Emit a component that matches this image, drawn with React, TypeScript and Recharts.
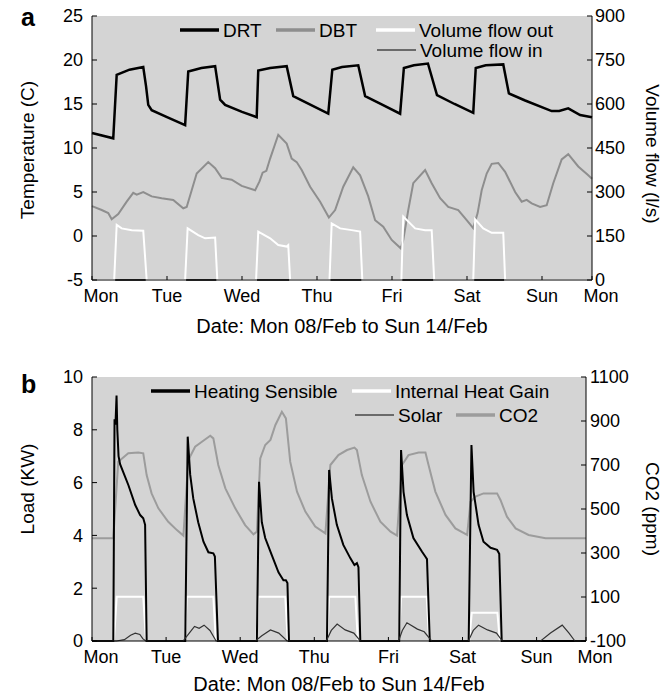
import React from 'react';
import { LineChart, Line, XAxis, YAxis, CartesianGrid, Legend } from 'recharts';

type Pt = { h: number; v: number };
const pts = (rows: number[][]): Pt[] => rows.map(([h, v]) => ({ h, v }));

// hours since Monday 00:00, plotted range ends at 160 h
const dayTicks = [0, 24, 48, 72, 96, 120, 144, 160];
const dayLabels = ['Mon', 'Tue', 'Wed', 'Thu', 'Fri', 'Sat', 'Sun', 'Mon'];
const tempTicks = [-5, 0, 5, 10, 15, 20, 25];
const flowTicks = [0, 150, 300, 450, 600, 750, 900];
const loadTicks = [0, 2, 4, 6, 8, 10];
const co2Ticks = [-100, 100, 300, 500, 700, 900, 1100];
const xTitle = 'Date: Mon 08/Feb to Sun 14/Feb';

// panel a
const drt = pts([
  [0, 11.7], [6.8, 11.1], [7.9, 18.3], [12, 18.9], [16.4, 19.2], [17.3, 17.0], [18, 14.9], [19.1, 14.3], [24, 13.5], [29.8, 12.6],
  [30.8, 18.7], [35, 19.1], [39.4, 19.3], [41, 15.5], [42.6, 14.9], [48, 14.1], [52.7, 13.5],
  [53.2, 18.8], [57, 19.1], [62.3, 19.3], [64.4, 15.9], [70, 14.9], [75.6, 13.9],
  [76.9, 18.9], [80, 19.2], [85.2, 19.4], [87.4, 15.9], [93, 14.9], [98.6, 13.9],
  [99.8, 19.1], [103, 19.4], [107.5, 19.6], [110.4, 16.0], [116, 15.0], [122, 14.0],
  [122.8, 19.1], [126, 19.4], [131.6, 19.5], [133.4, 16.2], [138.6, 15.4], [147.1, 14.2], [149.5, 14.2], [152.4, 14.5],
  [156.2, 13.75], [160, 13.5],
]);

const dbt = pts([
  [0, 3.4], [3.1, 2.95], [5.2, 2.6], [6.3, 1.9], [8.4, 2.5], [11.1, 3.9], [13.2, 4.9], [14.3, 4.7], [16.4, 5.0], [19.1, 4.5],
  [22.3, 4.3], [26, 4.1], [29.2, 3.15], [30.3, 3.3], [31.9, 5.2], [33.5, 7.1], [37.2, 8.4], [39.4, 7.7], [41.5, 6.6],
  [44.7, 6.4], [47.9, 5.7], [52.2, 5.2], [53.6, 6.2], [54.6, 7.2], [55.8, 7.4], [57, 8.8], [59.6, 11.5], [62.3, 10.5],
  [63.9, 8.8], [65.5, 8.4], [67.1, 7.5], [69.8, 5.6], [73, 3.9], [75.8, 2.1], [77.8, 2.95], [80.4, 5.6], [83.6, 7.8],
  [85.8, 6.9], [88.4, 4.5], [90.6, 1.8], [93.2, 1.06], [95.9, -0.45], [98.8, -1.4], [99.6, -0.45], [101.2, 2.95],
  [102.8, 6.0], [106.6, 7.5], [108.7, 6.0], [111.4, 4.3], [114, 3.3], [117.2, 2.95], [119.9, 1.8], [122, 0.9],
  [123.4, 2.6], [124.7, 5.2], [126.3, 7.1], [127.9, 8.2], [130, 8.3], [132.2, 7.3], [135.4, 5.0], [137.5, 3.9],
  [139.1, 4.1], [140.7, 3.7], [143.4, 3.3], [145.5, 3.5], [147.6, 6.0], [150.3, 8.7], [152.4, 9.3], [155.6, 7.9],
  [158.8, 6.9], [160, 6.5],
]);

const flowOut = pts([
  [0, 0], [7.1, 0], [7.9, 188], [9.5, 176], [12.7, 170], [16.4, 168], [17.5, 0],
  [29.8, 0], [30.6, 176], [34, 153], [36.2, 142], [39.4, 145], [40.1, 0],
  [52.5, 0], [53.2, 165], [57, 142], [59.6, 119], [62.3, 114], [62.8, 119], [63.4, 0],
  [76, 0], [76.7, 193], [79.4, 176], [83.1, 170], [85.8, 165], [86.5, 0],
  [99, 0], [99.6, 216], [103.4, 176], [106.6, 170], [108.7, 170], [109.5, 0],
  [122, 0], [122.6, 207], [125.2, 176], [127.9, 161], [131.6, 161], [132.2, 0], [160, 0],
]);

const flowIn = pts([[0, 0], [160, 0]]);

// panel b
const heating = pts([
  [0, 0], [6.9, 0], [7.3, 8.4], [7.6, 8.2], [7.95, 9.3], [8.2, 8.0], [8.6, 7.0], [9.1, 6.7], [11.8, 5.9], [14, 5.15],
  [15.6, 4.77], [16.6, 4.65], [17.2, 4.4], [17.7, 0],
  [30.2, 0], [31, 7.74], [31.8, 6.3], [32.8, 5.4], [34.4, 4.5], [36.1, 3.76], [37.7, 3.36], [39.3, 3.32], [39.8, 3.2], [40.8, 0],
  [53.4, 0], [54.1, 6.03], [55, 4.5], [56.1, 3.9], [58.2, 3.26], [60.4, 2.6], [62, 2.3], [62.8, 2.3], [63.3, 2.2], [63.8, 0],
  [76.1, 0], [76.8, 6.48], [77.7, 5.4], [79.3, 4.4], [81.4, 3.64], [83.7, 3.13], [85, 2.88], [85.8, 2.95], [86.3, 2.8], [86.9, 0],
  [99.5, 0], [100.1, 7.23], [100.9, 5.65], [102, 4.77], [104.1, 3.9], [106.9, 3.38], [108, 3.19], [108.5, 3.1], [109.4, 0],
  [122, 0], [122.9, 7.42], [123.6, 5.65], [125.2, 4.4], [126.8, 3.76], [129.1, 3.53], [131.2, 3.45], [131.9, 3.3], [132.7, 0],
  [160, 0],
]);

const internalGain = pts([
  [0, 0], [7.1, 0], [8.0, 1.68], [16.6, 1.68], [17.5, 0],
  [30.1, 0], [30.7, 1.68], [39.3, 1.68], [40.1, 0],
  [53.2, 0], [53.9, 1.68], [62.6, 1.68], [63.4, 0],
  [76.1, 0], [76.8, 1.68], [85.3, 1.68], [86.1, 0],
  [99.4, 0], [100.1, 1.68], [108.4, 1.68], [109.2, 0],
  [122.2, 0], [123.0, 1.07], [131.3, 1.07], [132.1, 0], [160, 0],
]);

const solar = pts([
  [0, 0], [7.9, 0], [10.5, 0.05], [12.5, 0.22], [14, 0.3], [15.5, 0.25], [16.5, 0.08], [17.5, 0],
  [29.5, 0], [31.5, 0.3], [33.2, 0.55], [34.7, 0.48], [36.3, 0.6], [38.2, 0.4], [40.2, 0],
  [52.9, 0], [55, 0.2], [57.8, 0.42], [60.5, 0.3], [63.2, 0],
  [75.9, 0], [77.5, 0.4], [79.4, 0.64], [82, 0.42], [84.8, 0.3], [86.9, 0],
  [99.3, 0], [100.5, 0.4], [102, 0.69], [105.4, 0.45], [107.6, 0.35], [110, 0],
  [121.9, 0], [123.5, 0.4], [125.2, 0.6], [128.1, 0.42], [131, 0.3], [132.9, 0],
  [145.3, 0], [148.5, 0.3], [152.3, 0.6], [154.5, 0.3], [156.4, 0], [160, 0],
]);

const co2 = pts([
  [0, 367], [6.9, 367], [8.5, 715], [11.75, 753], [15, 757], [16.6, 753], [17.7, 654], [19.3, 571], [21.5, 503],
  [24.7, 442], [27.5, 404], [29.6, 379],
  [31.2, 723], [33.4, 783], [35.6, 806], [38.3, 833], [39.3, 821], [40.9, 700], [43.2, 594], [46.4, 503], [49.6, 427], [52.3, 385],
  [53.4, 397], [54.5, 730], [56.1, 791], [57.8, 814], [59.4, 882], [61.5, 942], [62.8, 912], [64.2, 715], [66.4, 579],
  [69.1, 488], [72.3, 420], [75.6, 389],
  [77.2, 700], [79.8, 745], [82.6, 768], [85, 779], [85.8, 768], [87.4, 654], [90.2, 533], [93.4, 442], [96.7, 397], [98.8, 379],
  [100.4, 700], [102.5, 745], [105.8, 757], [108, 757], [109, 700], [111.2, 579], [114.5, 473], [117.7, 412], [121.5, 382],
  [122.6, 533], [124.2, 556], [126.8, 571], [131.2, 571], [132.3, 541], [134.4, 465], [137.2, 412], [141.4, 382],
  [146.9, 367], [160, 367],
]);

const FONT = '"Liberation Sans", Arial, Helvetica, sans-serif';
const PLOT_BG = '#d4d4d4';
const DBT_GREY = '#8e8e8e';
const CO2_GREY = '#9c9c9c';

const DayTick = (props: any) => {
  const { x, y, payload } = props;
  const i = dayTicks.indexOf(payload.value);
  const dx = i === 0 || i === dayTicks.length - 1 ? 9 : 0;
  return (
    <text x={x + dx} y={y} dy="0.71em" textAnchor="middle" fontSize={18} fill="#000">
      {dayLabels[i]}
    </text>
  );
};

const sideTitle = (text: string, dx: number, dy: number, angle: number) => (p: any) => {
  const vb = p.viewBox || { x: 0, y: 0, width: 0, height: 0 };
  const cx = vb.x + dx;
  const cy = vb.y + vb.height / 2 + dy;
  return (
    <text x={cx} y={cy} transform={`rotate(${angle} ${cx} ${cy})`} textAnchor="middle"
      dominantBaseline="central" fontSize={19} fill="#000">
      {text}
    </text>
  );
};

const bottomTitle = (dy: number) => (p: any) => {
  const vb = p.viewBox || { x: 0, y: 0, width: 0, height: 0 };
  return (
    <text x={vb.x + vb.width / 2} y={vb.y + dy} textAnchor="middle" fontSize={20} fill="#000">
      {xTitle}
    </text>
  );
};

type Key = { name: string; color: string; w: number; x: number; y: number };

const legendBox = (keys: Key[]) => () => (
  <svg width={664} height={70} style={{ display: 'block', fontFamily: FONT }}>
    {keys.map((k) => (
      <g key={k.name}>
        <line x1={k.x} x2={k.x + 39} y1={k.y} y2={k.y} stroke={k.color} strokeWidth={k.w} />
        <text x={k.x + 43} y={k.y} dominantBaseline="central" fontSize={19} fill="#000">{k.name}</text>
      </g>
    ))}
  </svg>
);

const keysA: Key[] = [
  { name: 'DRT', color: '#000', w: 3.5, x: 180, y: 30 },
  { name: 'DBT', color: DBT_GREY, w: 3.5, x: 276, y: 30 },
  { name: 'Volume flow out', color: '#fff', w: 3.5, x: 376, y: 30 },
  { name: 'Volume flow in', color: '#000', w: 1.2, x: 377, y: 50 },
];

const keysB: Key[] = [
  { name: 'Heating Sensible', color: '#000', w: 3.5, x: 151, y: 30 },
  { name: 'Internal Heat Gain', color: '#fff', w: 3.5, x: 352, y: 30 },
  { name: 'Solar', color: '#000', w: 1.2, x: 355, y: 54 },
  { name: 'CO2', color: CO2_GREY, w: 3.5, x: 456, y: 54 },
];

const axisCommon = {
  axisLine: { stroke: '#000' },
  tickLine: { stroke: '#000' },
  tick: { fill: '#000', fontSize: 18 },
  interval: 0 as const,
};

const legendWrap = { left: 0, top: 0, width: 664, height: 70, pointerEvents: 'none' as const };

export default function App() {
  return (
    <div style={{ position: 'absolute', left: 0, top: 0, width: 664, height: 700, background: '#fff', overflow: 'hidden', fontFamily: FONT }}>
      <div style={{ position: 'absolute', left: 0, top: 0 }}>
        <LineChart width={664} height={350} margin={{ top: 16, right: 12, bottom: 40, left: 32 }}>
          <CartesianGrid yAxisId="l" fill={PLOT_BG} stroke="none" horizontal={false} vertical={false} />
          <XAxis dataKey="h" type="number" domain={[0, 160]} ticks={dayTicks} height={30}
            tickSize={-4} tickMargin={13} tick={<DayTick />} axisLine={{ stroke: '#000' }} tickLine={{ stroke: '#000' }}
            interval={0} label={bottomTitle(53)} />
          <YAxis yAxisId="l" type="number" domain={[-5, 25]} ticks={tempTicks} width={60}
            tickSize={-5} tickMargin={14} {...axisCommon} label={sideTitle('Temperature (C)', -5, 2, -90)} />
          <YAxis yAxisId="r" orientation="right" type="number" domain={[0, 900]} ticks={flowTicks} width={60}
            tickSize={-5} tickMargin={8} {...axisCommon} label={sideTitle('Volume flow (l/s)', 60, 6, 90)} />
          <Legend layout="vertical" align="center" verticalAlign="middle" wrapperStyle={legendWrap} content={legendBox(keysA)} />
          <Line yAxisId="l" data={drt} dataKey="v" name="DRT" stroke="#000" strokeWidth={2.5} dot={false} isAnimationActive={false} />
          <Line yAxisId="l" data={dbt} dataKey="v" name="DBT" stroke={DBT_GREY} strokeWidth={2} dot={false} isAnimationActive={false} />
          <Line yAxisId="r" data={flowIn} dataKey="v" name="Volume flow in" stroke="#000" strokeWidth={1.5} dot={false} isAnimationActive={false} />
          <Line yAxisId="r" data={flowOut} dataKey="v" name="Volume flow out" stroke="#fff" strokeWidth={2} dot={false} isAnimationActive={false} />
        </LineChart>
      </div>
      <div style={{ position: 'absolute', left: 0, top: 361 }}>
        <LineChart width={664} height={339} margin={{ top: 16, right: 18, bottom: 29, left: 32 }}>
          <CartesianGrid yAxisId="l" fill={PLOT_BG} stroke="none" horizontal={false} vertical={false} />
          <XAxis dataKey="h" type="number" domain={[0, 160]} ticks={dayTicks} height={30}
            tickSize={-4} tickMargin={13} tick={<DayTick />} axisLine={{ stroke: '#000' }} tickLine={{ stroke: '#000' }}
            interval={0} label={bottomTitle(50)} />
          <YAxis yAxisId="l" type="number" domain={[0, 10]} ticks={loadTicks} width={60}
            tickSize={-5} tickMargin={14} {...axisCommon} label={sideTitle('Load (KW)', -5, -20, -90)} />
          <YAxis yAxisId="r" orientation="right" type="number" domain={[-100, 1100]} ticks={co2Ticks} width={60}
            tickSize={-5} tickMargin={9} {...axisCommon} label={sideTitle('CO2 (ppm)', 66, 0, 90)} />
          <Legend layout="vertical" align="center" verticalAlign="middle" wrapperStyle={legendWrap} content={legendBox(keysB)} />
          <Line yAxisId="r" data={co2} dataKey="v" name="CO2" stroke={CO2_GREY} strokeWidth={2} dot={false} isAnimationActive={false} />
          <Line yAxisId="l" data={internalGain} dataKey="v" name="Internal Heat Gain" stroke="#fff" strokeWidth={2} dot={false} isAnimationActive={false} />
          <Line yAxisId="l" data={heating} dataKey="v" name="Heating Sensible" stroke="#000" strokeWidth={2} dot={false} isAnimationActive={false} />
          <Line yAxisId="l" data={solar} dataKey="v" name="Solar" stroke="#333" strokeWidth={1.2} dot={false} isAnimationActive={false} />
        </LineChart>
      </div>
      <svg width={664} height={700} style={{ position: 'absolute', left: 0, top: 0, pointerEvents: 'none' }}>
        <text x={21} y={26} fontSize={25} fontWeight="bold" fill="#000">a</text>
        <text x={21} y={393} fontSize={25} fontWeight="bold" fill="#000">b</text>
      </svg>
    </div>
  );
}
